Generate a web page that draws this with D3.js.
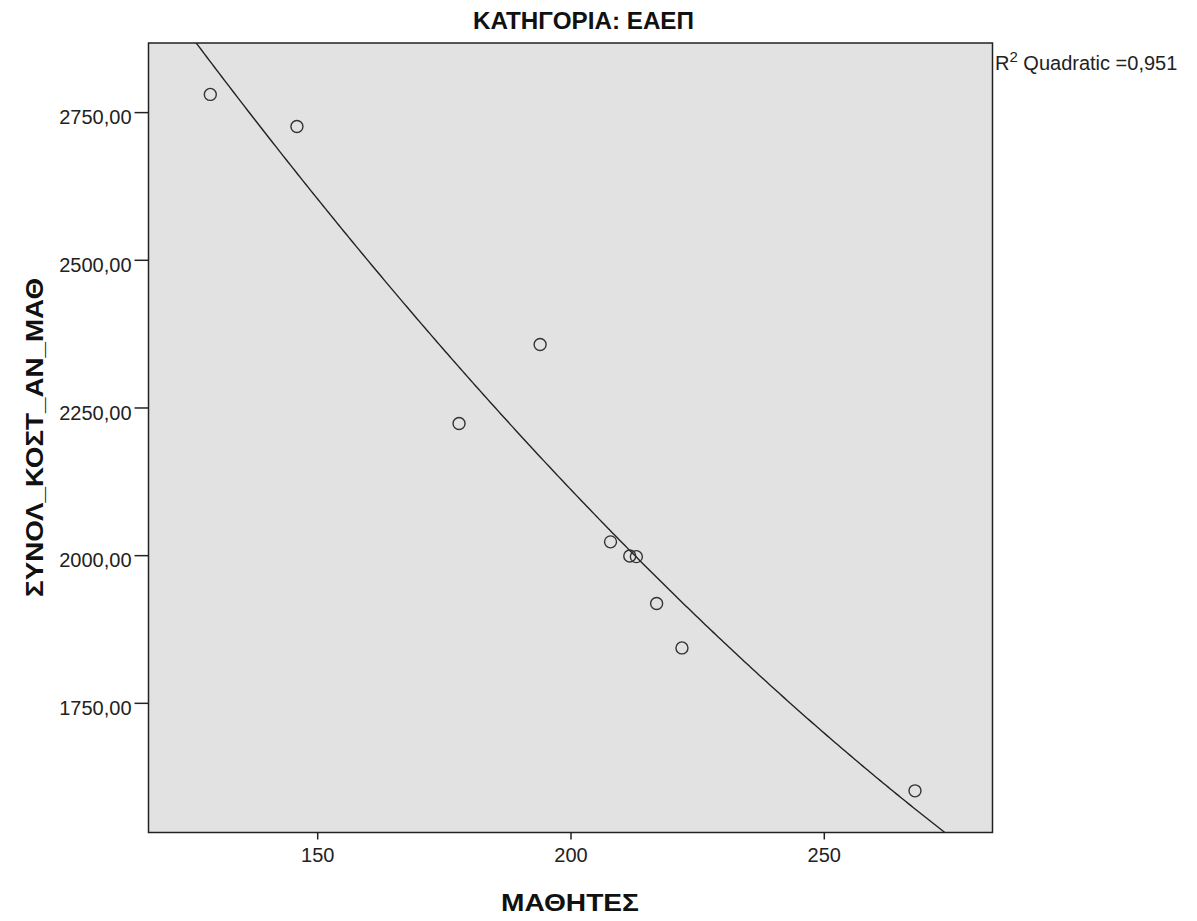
<!DOCTYPE html>
<html><head><meta charset="utf-8">
<script src="https://cdn.jsdelivr.net/npm/d3@7"></script>
<style>body{margin:0;background:#fff;} text{font-family:"Liberation Sans",Arial,sans-serif;}</style>
</head><body>
<svg id="c" width="1197" height="921"></svg>
<script>
const students = [128.9, 146.0, 194.0, 178.0, 207.9, 211.7, 213.0, 217.0, 222.0, 268.0];
const costPerStudent = [2780, 2725.6, 2356.6, 2223, 2022.5, 1998.5, 1997.5, 1918.2, 1843, 1601];
const xTicks = [150, 200, 250];
const yTicks = [1750, 2000, 2250, 2500, 2750];
const title = "ΚΑΤΗΓΟΡΙΑ: ΕΑΕΠ";
const xLabel = "ΜΑΘΗΤΕΣ";
const yLabel = "ΣΥΝΟΛ_ΚΟΣΤ_ΑΝ_ΜΑΘ";
const r2Text = "0,951";

const svg = d3.select("#c");
const L = 148.5, R = 992.5, T = 43, B = 832.5;
const x = d3.scaleLinear().domain([116.7, 283.3]).range([L, R]);
const y = d3.scaleLinear().domain([1530.5, 2867]).range([B, T]);

svg.append("rect").attr("x", L).attr("y", T).attr("width", R - L).attr("height", B - T)
  .attr("fill", "#e2e2e2").attr("stroke", "#222").attr("stroke-width", 1.5);

// quadratic least squares fit
function quadFit(xs, ys) {
  let S = [[0,0,0],[0,0,0],[0,0,0]], v = [0,0,0];
  xs.forEach((xi, i) => {
    const p = [1, xi, xi*xi];
    for (let a = 0; a < 3; a++) { v[a] += p[a]*ys[i]; for (let b = 0; b < 3; b++) S[a][b] += p[a]*p[b]; }
  });
  const M = S.map((r, i) => [...r, v[i]]);
  for (let i = 0; i < 3; i++) {
    for (let k = i+1; k < 3; k++) { const f = M[k][i]/M[i][i]; for (let j = i; j < 4; j++) M[k][j] -= f*M[i][j]; }
  }
  const c = [0,0,0];
  for (let i = 2; i >= 0; i--) { let s = M[i][3]; for (let j = i+1; j < 3; j++) s -= M[i][j]*c[j]; c[i] = s/M[i][i]; }
  return c;
}
const coef = quadFit(students, costPerStudent);
const f = xv => coef[0] + coef[1]*xv + coef[2]*xv*xv;
const xs = d3.range(116.7, 283.3, 0.5);
svg.append("clipPath").attr("id", "pc").append("rect").attr("x", L).attr("y", T).attr("width", R-L).attr("height", B-T);
svg.append("path").datum(xs).attr("clip-path", "url(#pc)")
  .attr("d", d3.line().x(d => x(d)).y(d => y(f(d))))
  .attr("fill", "none").attr("stroke", "#222").attr("stroke-width", 1.4);

svg.append("g").selectAll("circle").data(students).join("circle")
  .attr("cx", (d) => x(d)).attr("cy", (d, i) => y(costPerStudent[i])).attr("r", 6)
  .attr("fill", "none").attr("stroke", "#333").attr("stroke-width", 1.4);

const xAxis = svg.append("g").attr("transform", `translate(0,${B})`)
  .call(d3.axisBottom(x).tickValues(xTicks).tickSize(7).tickPadding(8.5).tickFormat(d3.format("d")));
const yAxis = svg.append("g").attr("transform", `translate(${L},0)`)
  .call(d3.axisLeft(y).tickValues(yTicks).tickSize(14).tickPadding(3).tickFormat(d => d.toFixed(2).replace(".", ",")));
[xAxis, yAxis].forEach(g => {
  g.select(".domain").remove();
  g.selectAll(".tick line").attr("stroke", "#222").attr("stroke-width", 1.5);
  g.selectAll(".tick text").attr("fill", "#222").style("font-size", "20px").style("font-family", "Liberation Sans, Arial, sans-serif");
});
yAxis.selectAll(".tick text").attr("dy", "0.58em");

svg.append("text").attr("x", 583.5).attr("y", 29).attr("text-anchor", "middle")
  .attr("textLength", 221).attr("lengthAdjust", "spacingAndGlyphs")
  .style("font-size", "23px").style("font-weight", "bold").attr("fill", "#111").text(title);
svg.append("text").attr("x", 570).attr("y", 910.5).attr("text-anchor", "middle")
  .attr("textLength", 138).attr("lengthAdjust", "spacingAndGlyphs")
  .style("font-size", "24px").style("font-weight", "bold").attr("fill", "#111").text(xLabel);
svg.append("text").attr("transform", `translate(43,437.5) rotate(-90)`).attr("text-anchor", "middle")
  .attr("textLength", 319).attr("lengthAdjust", "spacingAndGlyphs")
  .style("font-size", "24px").style("font-weight", "bold").attr("fill", "#111").text(yLabel);

const t = svg.append("text").attr("x", 995).attr("y", 70).style("font-size", "20px").attr("fill", "#222");
t.append("tspan").text("R");
t.append("tspan").attr("dy", -8).style("font-size", "15px").text("2");
t.append("tspan").attr("dy", 8).text(" Quadratic =" + r2Text);
</script>
</body></html>
